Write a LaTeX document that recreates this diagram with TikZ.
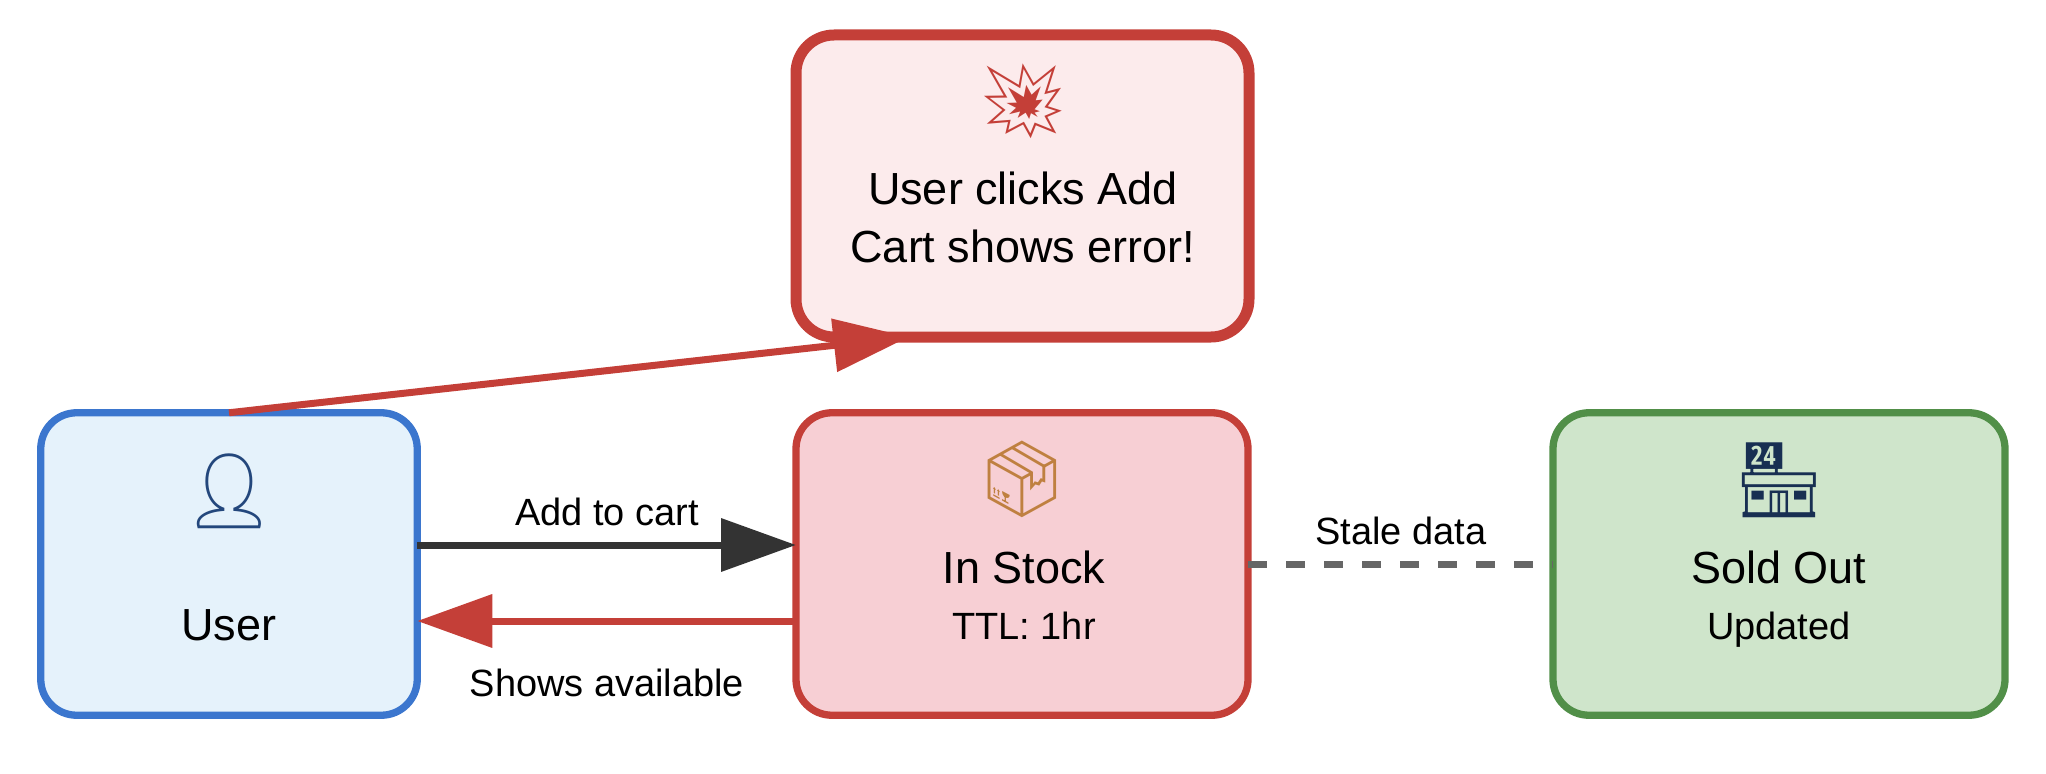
\documentclass[tikz,border=0pt]{standalone}
\usepackage{fontspec}
\setmainfont{Liberation Sans}
\newfontfamily\emojifont{Noto Emoji}
\usetikzlibrary{arrows.meta}
\definecolor{boxred}{HTML}{C43F38}
\definecolor{boxblue}{HTML}{3B76CE}
\definecolor{boxgreen}{HTML}{518F48}
\tikzset{
  cardbox/.style={draw, rounded corners=.36cm, line width=.073cm, inner sep=0pt, outer sep=0pt, minimum width=4.52cm, minimum height=3.025cm},
  bigtext/.style={anchor=base, font=\fontsize{12.8pt}{14pt}\selectfont},
  smalltext/.style={anchor=base, font=\fontsize{10.8pt}{13pt}\selectfont},
  emoji/.style={font=\fontsize{21pt}{24pt}\emojifont},
  flow/.style={line width=.07cm, -{Triangle[length=.75cm,width=.52cm]}}
}
\begin{document}
\begin{tikzpicture}
  \useasboundingbox (0,0) rectangle (20.46,7.73);
  % boxes
  \node[cardbox, fill=boxblue!0!white, fill={rgb,255:red,229;green,242;blue,251}, draw=boxblue, minimum width=3.765cm] (user) at (2.29,2.09) {};
  \node[cardbox, fill={rgb,255:red,247;green,207;blue,212}, draw=boxred] (stock) at (10.22,2.09) {};
  \node[cardbox, fill={rgb,255:red,207;green,229;blue,203}, draw=boxgreen] (sold) at (17.79,2.09) {};
  \node[cardbox, fill={rgb,255:red,252;green,235;blue,236}, draw=boxred, line width=.11cm, rounded corners=.38cm, minimum height=3.02cm, minimum width=4.53cm] (oops) at (10.225,5.87) {};
  % icons
  \node[emoji, text=boxred] (oopsicon) at (10.23,6.72) {💥};
  \node[emoji, text=boxblue!60!black] (usericon) at (2.29,2.82) {👤};
  \node[emoji, text=brown] (stockicon) at (10.22,2.94) {📦};
  \node[emoji, text=boxblue!40!black] (soldicon) at (17.79,2.93) {🏪};
  % texts
  \node[bigtext] (usertext) at (2.29,1.33) {User};
  \node[bigtext] (stocktext) at (10.24,1.90) {In Stock};
  \node[smalltext] (ttltext) at (10.24,1.34) {TTL: 1hr};
  \node[bigtext] (soldtext) at (17.79,1.90) {Sold Out};
  \node[smalltext] (updatedtext) at (17.79,1.34) {Updated};
  \node[bigtext] (clickstext) at (10.23,5.69) {User clicks Add};
  \node[bigtext] (carttext) at (10.23,5.11) {Cart shows error!};
  % connectors
  \draw[flow, boxred] (user.north) -- (oops.233);
  \draw[flow, black!80] ([yshift=.19cm]user.east) -- ([yshift=.19cm]stock.west);
  \draw[flow, boxred] ([yshift=-.57cm]stock.west) -- ([yshift=-.57cm]user.east);
  \draw[line width=.07cm, black!60, dash pattern=on .19cm off .19cm] (stock.east) -- (sold.west);
  % edge labels
  \node[smalltext] (addlabel) at (6.07,2.48) {Add to cart};
  \node[smalltext] (showslabel) at (6.07,.77) {Shows available};
  \node[smalltext] (stalelabel) at (14.01,2.29) {Stale data};
\end{tikzpicture}
\end{document}
